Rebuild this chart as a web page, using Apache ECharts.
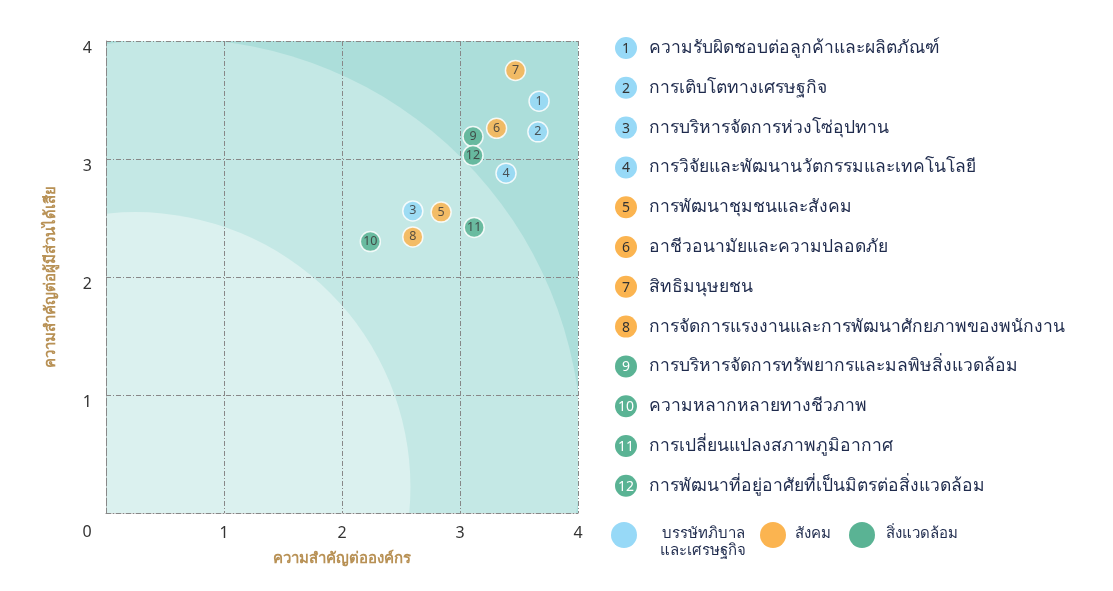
<!DOCTYPE html>
<html><head><meta charset="utf-8">
<script src="https://cdn.jsdelivr.net/npm/echarts@6/dist/echarts.min.js"></script>
<style>html,body{margin:0;padding:0;background:#fff}#c{width:1113px;height:591px}</style>
</head><body><div id="c"></div>
<script>
// ---- data ----
const topicNames = [
  'ความรับผิดชอบต่อลูกค้าและผลิตภัณฑ์',
  'การเติบโตทางเศรษฐกิจ',
  'การบริหารจัดการห่วงโซ่อุปทาน',
  'การวิจัยและพัฒนานวัตกรรมและเทคโนโลยี',
  'การพัฒนาชุมชนและสังคม',
  'อาชีวอนามัยและความปลอดภัย',
  'สิทธิมนุษยชน',
  'การจัดการแรงงานและการพัฒนาศักยภาพของพนักงาน',
  'การบริหารจัดการทรัพยากรและมลพิษสิ่งแวดล้อม',
  'ความหลากหลายทางชีวภาพ',
  'การเปลี่ยนแปลงสภาพภูมิอากาศ',
  'การพัฒนาที่อยู่อาศัยที่เป็นมิตรต่อสิ่งแวดล้อม'
];
const topicGroup = [0,0,0,0,1,1,1,1,2,2,2,2];
const orgImportance = [3.67, 3.66, 2.60, 3.39, 2.84, 3.31, 3.47, 2.60, 3.11, 2.24, 3.12, 3.11];
const stakeImportance = [3.49, 3.23, 2.56, 2.88, 2.55, 3.26, 3.75, 2.34, 3.19, 2.30, 2.42, 3.03];
const groupNames = ['บรรษัทภิบาล\nและเศรษฐกิจ', 'สังคม', 'สิ่งแวดล้อม'];
const groupColors = ['#97d9f7', '#fbb450', '#5ab394'];
const axisTicks = [0, 1, 2, 3, 4];
// background zones: [centerX, centerY, radius] in data units
const zoneMid = [0.57, 0.56, 3.46];
const zoneLow = [0.25, 0.22, 2.33];
const zoneColors = ['#acdeda', '#c4e8e5', '#dbf1ef'];

const FONT = "'Noto Sans', 'Open Sans', sans-serif";
const chart = echarts.init(document.getElementById('c'));

const grid = {left: 106, top: 41, width: 472, height: 472};
const dashDot = {color: '#888', width: 1, type: [5, 2, 1, 2]};

const groupSeries = groupNames.map((g, gi) => ({
  type: 'scatter',
  name: g,
  z: 5,
  symbolSize: 20,
  itemStyle: {color: groupColors[gi], borderColor: '#fff', borderWidth: 1.5, opacity: 0.85},
  label: {show: true, position: 'inside', formatter: p => p.data[2], color: '#3a3a3a', fontSize: 12.5, fontFamily: FONT},
  data: orgImportance.map((x, i) => [x, stakeImportance[i], String(i + 1)]).filter((d, i) => topicGroup[i] === gi)
}));

function zoneSeries(zone, color, z) {
  return {
    type: 'custom', z: z, silent: true,
    data: [zone],
    renderItem: (params, api) => {
      const c = api.coord([api.value(0), api.value(1)]);
      const r = api.size([api.value(2), api.value(2)])[0];
      const cs = params.coordSys;
      return {
        type: 'group',
        clipPath: {type: 'rect', shape: {x: cs.x, y: cs.y, width: cs.width, height: cs.height}},
        children: [{type: 'circle', shape: {cx: c[0], cy: c[1], r: r}, style: {fill: color}}]
      };
    }
  };
}

// legend graphics
const graphics = [];
const rowTop = 48, rowStep = 39.8;
topicNames.forEach((n, i) => {
  const y = rowTop + i * rowStep;
  graphics.push({type: 'circle', left: 626 - 11, top: y - 11, shape: {r: 11}, style: {fill: groupColors[topicGroup[i]]}});
  graphics.push({type: 'text', x: 626, y: y + 1, style: {text: String(i + 1), fill: topicGroup[i] === 2 ? '#fff' : '#333', font: '14px ' + FONT, textAlign: 'center', textVerticalAlign: 'middle'}});
  graphics.push({type: 'text', x: 649, y: y, style: {text: n, fill: '#1f2b4d', font: '17.5px ' + FONT, textAlign: 'left', textVerticalAlign: 'middle'}});
});
const bottomLegend = [[624, 703, 'center'], [773, 795, 'left'], [862, 886, 'left']];
bottomLegend.forEach((b, i) => {
  graphics.push({type: 'circle', left: b[0] - 13, top: 535 - 13, shape: {r: 13}, style: {fill: groupColors[i]}});
  graphics.push({type: 'text', x: b[1], y: i === 0 ? 542 : 534, style: {text: groupNames[i], fill: '#1f2b4d', font: '15px ' + FONT, textAlign: b[2], textVerticalAlign: 'middle', lineHeight: 17}});
});
graphics.push({type: 'text', x: 87, y: 532, style: {text: '0', fill: '#333', font: '16px ' + FONT, textAlign: 'center', textVerticalAlign: 'middle'}});

const axisCommon = {
  type: 'value', min: axisTicks[0], max: axisTicks[axisTicks.length - 1], interval: 1, z: 3,
  nameLocation: 'middle',
  nameTextStyle: {color: '#b89155', fontSize: 15, fontWeight: 'bold', fontFamily: FONT},
  axisLine: {show: true, lineStyle: dashDot}, axisTick: {show: false},
  splitLine: {show: true, lineStyle: dashDot}
};

chart.setOption({
  animation: false,
  textStyle: {fontFamily: FONT},
  grid: Object.assign({show: true, backgroundColor: zoneColors[0], borderWidth: 0, z: 0}, grid),
  xAxis: Object.assign({}, axisCommon, {
    name: 'ความสำคัญต่อองค์กร', nameGap: 38,
    axisLabel: {color: '#333', fontSize: 16, margin: 12, fontFamily: FONT, formatter: v => v === 0 ? '' : String(v)}
  }),
  yAxis: Object.assign({}, axisCommon, {
    name: 'ความสำคัญต่อผู้มีส่วนได้เสีย', nameGap: 48, nameRotate: 90,
    axisLabel: {color: '#333', fontSize: 16, margin: 14, verticalAlign: 'top', lineHeight: 14, fontFamily: FONT, formatter: v => v === 0 ? '' : String(v)}
  }),
  series: [zoneSeries(zoneMid, zoneColors[1], 1), zoneSeries(zoneLow, zoneColors[2], 2)].concat(groupSeries),
  graphic: graphics
});
</script></body></html>
